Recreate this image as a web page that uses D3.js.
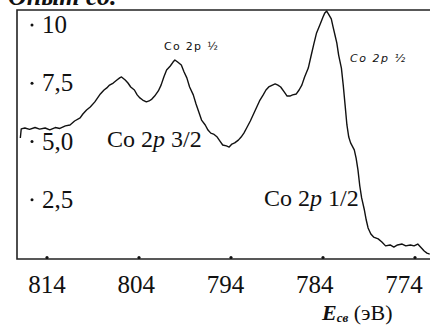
<!DOCTYPE html>
<html>
<head>
<meta charset="utf-8">
<script src="https://cdn.jsdelivr.net/npm/d3@7"></script>
<style>
  body { margin: 0; background: #fff; }
  svg { display: block; }
</style>
</head>
<body>
<svg id="chart" width="430" height="326"></svg>
<script>
// binding energy (eV) and intensity
var energy = [816.9, 816.8, 816.4, 815.9, 815.3, 814.8, 814.2, 813.7, 813.1, 812.6,
  812.0, 811.5, 811.0, 810.4, 810.1, 809.7, 809.3, 808.8, 808.2, 807.8,
  807.5, 807.2, 806.8, 806.4, 806.1, 805.9, 805.5, 805.2, 804.9, 804.5,
  804.2, 803.9, 803.6, 803.2, 802.9, 802.6, 802.3, 801.9, 801.6, 801.3,
  801.0, 800.6, 800.3, 800.1, 799.8, 799.4, 799.1, 798.8, 798.5, 798.1,
  797.8, 797.5, 797.2, 796.8, 796.5, 796.2, 795.9, 795.5, 795.2, 794.9,
  794.5, 794.2, 793.9, 793.6, 793.2, 792.9, 792.6, 792.3, 791.9, 791.6,
  791.2, 790.9, 790.5, 790.2, 789.9, 789.5, 789.2, 788.9, 788.6, 788.2,
  787.9, 787.6, 787.3, 786.9, 786.6, 786.3, 786.0, 785.6, 785.3, 785.0,
  784.7, 784.3, 784.0, 783.8, 783.6, 783.4, 783.1, 782.9, 782.7, 782.5,
  782.3, 782.0, 781.8, 781.6, 781.4, 781.2, 781.0, 780.6, 780.4, 780.2,
  780.0, 779.8, 779.5, 779.3, 779.1, 778.8, 778.5, 778.0, 777.6, 777.2,
  776.7, 776.3, 775.9, 775.4, 775.0, 774.5, 774.1, 773.7, 773.4, 773.0,
  772.7, 772.4];
var intensity = [5.15, 5.54, 5.58, 5.52, 5.6, 5.53, 5.58, 5.5, 5.6, 5.56,
  5.67, 5.71, 5.88, 6.01, 6.18, 6.35, 6.48, 6.7, 7.04, 7.21,
  7.3, 7.42, 7.51, 7.64, 7.73, 7.77, 7.64, 7.51, 7.34, 7.21,
  7.0, 6.87, 6.78, 6.7, 6.74, 6.82, 6.95, 7.17, 7.42, 7.77,
  8.07, 8.24, 8.41, 8.5, 8.41, 8.28, 7.98, 7.73, 7.34, 7.0,
  6.61, 6.27, 5.92, 5.71, 5.49, 5.36, 5.32, 5.19, 5.02, 4.85,
  4.81, 4.76, 4.89, 4.94, 5.06, 5.19, 5.36, 5.58, 5.88, 6.14,
  6.48, 6.74, 7.0, 7.21, 7.34, 7.42, 7.47, 7.42, 7.34, 7.12,
  6.95, 6.95, 7.0, 7.04, 7.21, 7.42, 7.77, 8.15, 8.67, 9.18,
  9.66, 10.04, 10.34, 10.52, 10.6, 10.47, 10.26, 9.91, 9.57, 9.23,
  8.71, 8.15, 7.42, 6.57, 5.71, 5.19, 4.94, 4.64, 4.29, 3.78,
  3.09, 2.58, 2.06, 1.63, 1.29, 1.03, 0.9, 0.82, 0.69, 0.52,
  0.56, 0.47, 0.56, 0.6, 0.52, 0.56, 0.52, 0.6, 0.47, 0.3,
  0.21, 0.17];

var xTicks = [814, 804, 794, 784, 774];
var yTicks = [10, 7.5, 5.0, 2.5];
var yTickLabels = ["10", "7,5", "5,0", "2,5"];

var svg = d3.select("#chart");
var serif = "'Liberation Serif', 'DejaVu Serif', serif";

var x = d3.scaleLinear().domain([814, 774]).range([47, 415]);
var y = d3.scaleLinear().domain([0, 10]).range([258, 25]);
// the printed tick numbers sit a little left of their dots, more so to the right
var xLab = d3.scaleLinear().domain([814, 774]).range([47, 404]);

// title, cut off at the top of the picture
svg.append("text")
  .attr("x", 8).attr("y", 5)
  .attr("font-family", serif)
  .attr("font-size", 26)
  .attr("font-weight", "bold")
  .attr("font-style", "italic")
  .attr("fill", "#111")
  .text("Опыт со.");

// frame: left, top and bottom
svg.append("path")
  .attr("d", "M430,10 H17 V259 H430")
  .attr("fill", "none")
  .attr("stroke", "#222")
  .attr("stroke-width", 1.6);

// x ticks: small dots on the bottom line
svg.selectAll(".xdot")
  .data(xTicks)
  .enter().append("circle")
  .attr("cx", d => x(d))
  .attr("cy", 257.5)
  .attr("r", 1.6)
  .attr("fill", "#111");

svg.selectAll(".xlab")
  .data(xTicks)
  .enter().append("text")
  .attr("x", d => xLab(d))
  .attr("y", 293)
  .attr("text-anchor", "middle")
  .attr("font-family", serif)
  .attr("font-size", 25)
  .attr("fill", "#111")
  .text(d => d);

// y ticks: dot + label inside the frame
svg.selectAll(".ydot")
  .data(yTicks)
  .enter().append("circle")
  .attr("cx", 32)
  .attr("cy", d => y(d))
  .attr("r", 1.5)
  .attr("fill", "#111");

svg.selectAll(".ylab")
  .data(yTicks)
  .enter().append("text")
  .attr("x", 42)
  .attr("y", d => y(d) + 8)
  .attr("font-family", serif)
  .attr("font-size", 25)
  .attr("fill", "#111")
  .text((d, i) => yTickLabels[i]);

// spectrum
var line = d3.line()
  .x((d, i) => x(energy[i]))
  .y(d => y(d));

svg.append("path")
  .datum(intensity)
  .attr("d", line)
  .attr("fill", "none")
  .attr("stroke", "#111")
  .attr("stroke-width", 1.4)
  .attr("stroke-linejoin", "round");

// peak labels
function coLabel(px, py, frac, size) {
  var t = svg.append("text")
    .attr("x", px).attr("y", py)
    .attr("font-family", serif)
    .attr("font-size", size)
    .attr("fill", "#111");
  t.append("tspan").text("Co 2");
  t.append("tspan").attr("font-style", "italic").text("p");
  t.append("tspan").text(" " + frac);
}
coLabel(107, 147, "3/2", 24);
coLabel(264, 206, "1/2", 24);

// small hand-written notes
svg.append("text")
  .attr("x", 164).attr("y", 50)
  .attr("font-family", "'DejaVu Sans', sans-serif")
  .attr("font-size", 11)
  .attr("letter-spacing", 1.3)
  .attr("fill", "#111")
  .text("Co 2p ½");
svg.append("text")
  .attr("x", 350).attr("y", 62)
  .attr("font-family", "'DejaVu Sans', sans-serif")
  .attr("font-size", 11)
  .attr("font-style", "italic")
  .attr("letter-spacing", 1.5)
  .attr("fill", "#111")
  .text("Co 2p ½");

// axis title
var at = svg.append("text")
  .attr("x", 322).attr("y", 320)
  .attr("font-family", serif)
  .attr("font-size", 22)
  .attr("fill", "#111");
at.append("tspan").attr("font-weight", "bold").attr("font-style", "italic").text("E");
at.append("tspan").attr("font-weight", "bold").attr("font-style", "italic")
  .attr("font-size", 13).attr("dy", 2).text("св");
at.append("tspan").attr("dy", -2).text(" (эВ)");
</script>
</body>
</html>
